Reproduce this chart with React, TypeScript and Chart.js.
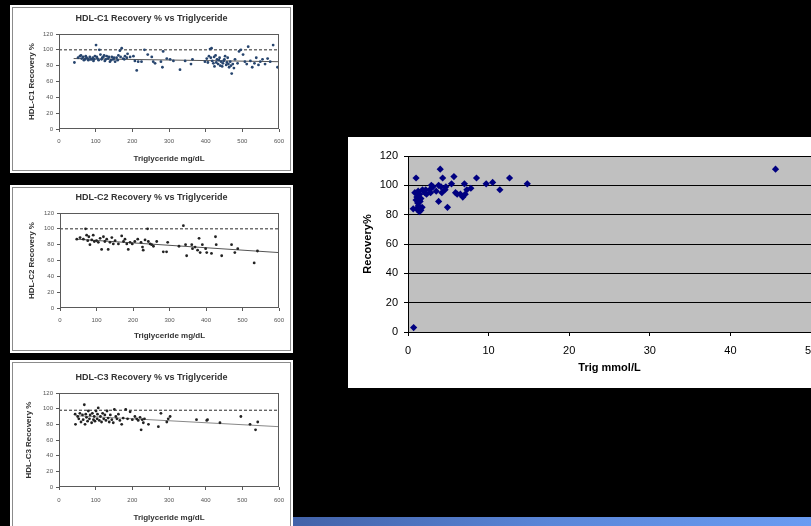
import React, { useEffect, useRef } from 'react';
import { Chart, registerables } from 'chart.js';
Chart.register(...registerables);

const FONT = "'Liberation Sans', Arial, Helvetica, sans-serif";

// ---------- tick labels ----------
const leftXTicks = [0, 100, 200, 300, 400, 500, 600];
const leftYTicks = [0, 20, 40, 60, 80, 100, 120];
const bigXTicks = [0, 10, 20, 30, 40, 50];
const bigYTicks = [0, 20, 40, 60, 80, 100, 120];

// ---------- HDL-C1 ----------
const c1Title = 'HDL-C1 Recovery % vs Triglyceride';
const c1YTitle = 'HDL-C1 Recovery %';
const c1Trig = [42, 57, 62, 66, 71, 75, 80, 84, 89, 94, 98, 101, 105, 110, 113, 116, 121, 125, 130, 134, 139, 144, 148, 153, 157, 162, 166, 171, 175, 180, 187, 194, 203, 207, 212, 216, 225, 233, 242, 253, 257, 262, 278, 282, 284, 294, 303, 312, 330, 344, 360, 364, 398, 403, 409, 412, 416, 421, 424, 427, 431, 434, 438, 442, 445, 449, 453, 456, 460, 464, 467, 471, 474, 477, 480, 487, 491, 496, 502, 507, 512, 516, 522, 527, 533, 538, 544, 549, 555, 562, 569, 576, 584, 596,
  52, 60, 68, 73, 78, 86, 92, 96, 103, 108, 118, 123, 128, 136, 142, 150, 160, 168, 178, 185, 406, 414, 418, 423, 429, 436, 440, 447, 451, 458, 462, 469];
const c1Recovery = [84, 92, 89, 91, 88, 90, 87, 91, 88, 86, 92, 106, 89, 100, 94, 88, 91, 86, 92, 89, 85, 91, 88, 85, 90, 93, 99, 102, 89, 92, 95, 91, 92, 86, 74, 85, 85, 100, 94, 91, 85, 83, 85, 78, 98, 89, 88, 86, 75, 86, 82, 88, 85, 89, 92, 101, 102, 83, 79, 93, 88, 82, 90, 85, 79, 86, 92, 81, 90, 78, 85, 70, 82, 77, 88, 83, 98, 100, 94, 85, 82, 104, 86, 78, 83, 90, 81, 85, 88, 82, 89, 85, 106, 78,
  90, 93, 87, 92, 89, 88, 90, 88, 91, 87, 90, 93, 88, 91, 87, 90, 87, 91, 88, 90, 84, 90, 86, 91, 84, 87, 80, 83, 88, 84, 82, 80];
const c1RefY = 100;
const c1TrendX = [40, 600];
const c1TrendY = [89, 85];

// ---------- HDL-C2 ----------
const c2Title = 'HDL-C2 Recovery % vs Triglyceride';
const c2YTitle = 'HDL-C2 Recovery %';
const c2Trig = [46, 55, 64, 70, 73, 76, 79, 82, 87, 91, 94, 100, 105, 110, 114, 119, 123, 128, 132, 137, 142, 146, 151, 160, 169, 174, 178, 183, 187, 192, 198, 205, 213, 222, 226, 228, 233, 240, 242, 247, 251, 256, 265, 283, 292, 295, 326, 338, 344, 347, 361, 363, 370, 377, 381, 384, 390, 399, 402, 415, 426, 428, 443, 470, 479, 487, 532, 541];
const c2Recovery = [87, 89, 87, 100, 92, 85, 90, 80, 86, 92, 84, 85, 83, 88, 74, 90, 84, 87, 74, 83, 89, 81, 85, 81, 91, 84, 87, 81, 74, 83, 81, 84, 87, 83, 77, 73, 86, 100, 84, 81, 80, 78, 84, 71, 71, 83, 78, 104, 80, 66, 80, 75, 77, 73, 88, 70, 80, 75, 70, 69, 90, 80, 66, 80, 70, 75, 57, 72];
const c2RefY = 100;
const c2TrendX = [45, 600];
const c2TrendY = [87, 70];

// ---------- HDL-C3 ----------
const c3Title = 'HDL-C3 Recovery % vs Triglyceride';
const c3YTitle = 'HDL-C3 Recovery %';
const c3Trig = [44, 45, 51, 54, 57, 60, 64, 66, 69, 71, 73, 75, 78, 80, 83, 85, 89, 91, 94, 96, 98, 101, 104, 105, 107, 110, 113, 116, 119, 122, 125, 128, 131, 134, 137, 140, 144, 148, 151, 155, 158, 162, 166, 171, 175, 182, 187, 194, 200, 207, 212, 216, 221, 224, 227, 230, 233, 244, 271, 278, 294, 298, 303, 375, 403, 405, 439, 496, 521, 536, 542];
const c3Recovery = [93, 80, 90, 87, 94, 83, 92, 86, 105, 80, 93, 89, 84, 97, 87, 92, 82, 94, 86, 90, 84, 97, 87, 93, 101, 85, 90, 83, 94, 87, 92, 85, 97, 88, 83, 92, 86, 82, 99, 90, 87, 93, 85, 80, 88, 99, 87, 96, 86, 90, 87, 85, 89, 73, 86, 82, 87, 80, 77, 94, 83, 87, 90, 86, 85, 86, 82, 90, 80, 73, 83];
const c3RefY = 98;
const c3TrendX = [45, 600];
const c3TrendY = [91, 77];

const leftXTitle = 'Triglyceride mg/dL';

// ---------- Big chart ----------
const bigTrig = [1.0, 4.0, 4.3, 5.7, 8.5, 12.6, 14.8, 9.7, 10.5, 11.4, 7.0, 5.4, 7.3, 7.8, 6.8, 7.1, 4.9, 3.8, 5.9, 6.1, 4.2, 4.6, 3.5, 3.8, 2.9, 2.7, 3.1, 2.2, 1.8, 2.1, 0.85, 1.26, 1.46, 1.1, 1.4, 1.5, 1.2, 0.65, 1.06, 1.6, 1.4, 1.75, 4.1, 4.7, 6.5, 1.3, 1.0, 1.6, 2.3, 2.8, 0.7, 45.6];
const bigRecovery = [105, 111, 105, 106, 105, 105, 101, 101, 102, 97, 101, 101, 97, 98, 92, 94, 85, 89, 95, 94, 95, 97, 96, 100, 100, 97, 99, 97, 97, 95, 95, 96, 94, 92, 90, 89, 88, 84, 84, 83, 82, 85, 99, 99, 94, 86, 90, 91, 94, 95, 3, 111];
const bigXTitle = 'Trig mmol/L';
const bigYTitle = 'Recovery%';

// ---------- helpers ----------
const pts = (xs: number[], ys: number[]) => xs.map((x, i) => ({ x, y: ys[i] }));

const deco = {
  id: 'deco',
  beforeDraw(chart: any, _a: any, opts: any) {
    const { ctx, chartArea: a } = chart;
    if (opts.bg) {
      ctx.save();
      ctx.fillStyle = opts.bg;
      ctx.fillRect(a.left, a.top, a.right - a.left, a.bottom - a.top);
      ctx.restore();
    }
  },
  afterDraw(chart: any, _a: any, opts: any) {
    const { ctx, chartArea: a } = chart;
    if (opts.frame) {
      ctx.save();
      ctx.strokeStyle = opts.frame;
      ctx.lineWidth = 1;
      const l = Math.round(a.left) + 0.5, t = Math.round(a.top) + 0.5;
      const r = Math.round(a.right) - 0.5, b = Math.round(a.bottom) - 0.5;
      ctx.strokeRect(l, t, r - l, b - t);
      ctx.restore();
    }
    if (opts.title) {
      ctx.save();
      ctx.fillStyle = opts.titleColor || '#333';
      ctx.font = `bold ${opts.titleSize}px ${FONT}`;
      ctx.textAlign = 'center';
      ctx.textBaseline = 'middle';
      ctx.fillText(opts.title, chart.width / 2, opts.titleY);
      ctx.restore();
    }
  },
};

type Spec = {
  W: number; H: number;
  plot: { l: number; t: number; r: number; b: number };
  title: string; titleY: number; yTitle: string;
  xs: number[]; ys: number[]; refY: number; trendX: number[]; trendY: number[];
  pointColor: string; trendColor: string;
  xTickPad: number; xTitlePad: number; yTitlePad: number;
};

function smallConfig(s: Spec): any {
  return {
    type: 'scatter',
    data: {
      datasets: [
        { data: pts(s.xs, s.ys), pointRadius: 1.4, pointBackgroundColor: s.pointColor, pointBorderWidth: 0, showLine: false },
        { data: pts([leftXTicks[0], leftXTicks[leftXTicks.length - 1]], [s.refY, s.refY]), showLine: true, borderColor: '#2a2a2a', borderWidth: 1, borderDash: [3, 2], pointRadius: 0 },
        { data: pts(s.trendX, s.trendY), showLine: true, borderColor: s.trendColor, borderWidth: 1, pointRadius: 0 },
      ],
    },
    options: {
      animation: false, responsive: false, devicePixelRatio: 1, events: [],
      layout: { padding: { left: 0, top: s.plot.t, right: s.W - s.plot.r, bottom: 0 } },
      plugins: {
        legend: { display: false }, tooltip: { enabled: false },
        deco: { frame: '#5a5a5a', title: s.title, titleY: s.titleY, titleSize: 9, titleColor: '#333' },
      },
      scales: {
        x: {
          type: 'linear', min: leftXTicks[0], max: leftXTicks[leftXTicks.length - 1],
          ticks: { stepSize: leftXTicks[1] - leftXTicks[0], font: { size: 6, family: FONT }, color: '#555', padding: s.xTickPad, maxRotation: 0, autoSkip: false },
          grid: { drawOnChartArea: false, drawTicks: true, tickLength: 3, color: '#5a5a5a' },
          border: { display: false },
          title: { display: true, text: leftXTitle, font: { size: 8, weight: 'bold', family: FONT }, color: '#333', padding: { top: 0, bottom: s.xTitlePad } },
          afterFit: (sc: any) => { sc.height = s.H - s.plot.b; },
        },
        y: {
          type: 'linear', min: leftYTicks[0], max: leftYTicks[leftYTicks.length - 1],
          ticks: { stepSize: leftYTicks[1] - leftYTicks[0], font: { size: 6, family: FONT }, color: '#555', padding: 3 },
          grid: { drawOnChartArea: false, drawTicks: true, tickLength: 3, color: '#5a5a5a' },
          border: { display: false },
          title: { display: true, text: s.yTitle, font: { size: 8, weight: 'bold', family: FONT }, color: '#333', padding: { top: s.yTitlePad, bottom: 0 } },
          afterFit: (sc: any) => { sc.width = s.plot.l; },
        },
      },
    },
    plugins: [deco],
  };
}

function bigConfig(): any {
  const W = 480, H = 251;
  const plot = { l: 60, t: 19, r: 463, b: 195 };
  return {
    type: 'scatter',
    data: {
      datasets: [
        { data: pts(bigTrig, bigRecovery), pointStyle: 'rectRot', pointRadius: 3.6, pointBackgroundColor: '#000080', pointBorderColor: '#000080', pointBorderWidth: 0, showLine: false },
      ],
    },
    options: {
      animation: false, responsive: false, devicePixelRatio: 1, events: [],
      layout: { padding: { left: 0, top: plot.t, right: W - plot.r, bottom: 0 } },
      plugins: {
        legend: { display: false }, tooltip: { enabled: false },
        deco: { bg: '#c0c0c0' },
      },
      scales: {
        x: {
          type: 'linear', min: bigXTicks[0], max: bigXTicks[bigXTicks.length - 1],
          ticks: { stepSize: bigXTicks[1] - bigXTicks[0], font: { size: 11, family: FONT }, color: '#000', padding: 8, maxRotation: 0, autoSkip: false },
          grid: { drawOnChartArea: false, drawTicks: true, tickLength: 4, color: '#000' },
          border: { display: true, color: '#000', width: 1 },
          title: { display: true, text: bigXTitle, font: { size: 11, weight: 'bold', family: FONT }, color: '#000', padding: { top: 0, bottom: 13 } },
          afterFit: (sc: any) => { sc.height = H - plot.b; },
        },
        y: {
          type: 'linear', min: bigYTicks[0], max: bigYTicks[bigYTicks.length - 1],
          ticks: { stepSize: bigYTicks[1] - bigYTicks[0], font: { size: 11, family: FONT }, color: '#000', padding: 6 },
          grid: { drawOnChartArea: true, drawTicks: true, tickLength: 4, color: '#000', lineWidth: 1 },
          border: { display: true, color: '#000', width: 1 },
          title: { display: true, text: bigYTitle, font: { size: 11, weight: 'bold', family: FONT }, color: '#000', padding: { top: 13, bottom: 0 } },
          afterFit: (sc: any) => { sc.width = plot.l; },
        },
      },
    },
    plugins: [deco],
  };
}

function ChartBox(props: { left: number; top: number; W: number; H: number; make: () => any; frame?: 'closed' | 'open' }) {
  const ref = useRef<HTMLCanvasElement>(null);
  useEffect(() => {
    const chart = new Chart(ref.current as HTMLCanvasElement, props.make());
    return () => chart.destroy();
  }, []);
  const { left, top, W, H, frame } = props;
  return (
    <div style={{ position: 'absolute', left, top, width: W, height: H, background: '#fff' }}>
      {frame && (
        <div style={{ position: 'absolute', left: 2, top: 2, width: W - 4, height: frame === 'open' ? H + 10 : H - 4, border: '1px solid #8c8c8c', boxSizing: 'border-box' }} />
      )}
      <canvas ref={ref} width={W} height={H} style={{ position: 'absolute', left: 0, top: 0, width: W, height: H }} />
    </div>
  );
}

export default function App() {
  return (
    <div style={{ position: 'fixed', left: 0, top: 0, width: 811, height: 526, background: '#000', overflow: 'hidden' }}>
      <div style={{ position: 'absolute', left: 290, top: 517, width: 521, height: 9, background: 'linear-gradient(90deg, #4262a8, #5a86d8 50%, #6a9cf2)' }} />
      <ChartBox left={10} top={5} W={283} H={168} frame="closed"
        make={() => smallConfig({ W: 283, H: 168, plot: { l: 49, t: 29, r: 269, b: 124 }, title: c1Title, titleY: 14, yTitle: c1YTitle,
          xs: c1Trig, ys: c1Recovery, refY: c1RefY, trendX: c1TrendX, trendY: c1TrendY, pointColor: '#27456e', trendColor: '#555',
          xTickPad: 6, xTitlePad: 9, yTitlePad: 17 })} />
      <ChartBox left={10} top={185} W={283} H={168} frame="closed"
        make={() => smallConfig({ W: 283, H: 168, plot: { l: 50, t: 28, r: 269, b: 123 }, title: c2Title, titleY: 13, yTitle: c2YTitle,
          xs: c2Trig, ys: c2Recovery, refY: c2RefY, trendX: c2TrendX, trendY: c2TrendY, pointColor: '#222', trendColor: '#555',
          xTickPad: 5.5, xTitlePad: 12, yTitlePad: 17 })} />
      <ChartBox left={10} top={360} W={283} H={166} frame="open"
        make={() => smallConfig({ W: 283, H: 166, plot: { l: 49, t: 33, r: 269, b: 127 }, title: c3Title, titleY: 18, yTitle: c3YTitle,
          xs: c3Trig, ys: c3Recovery, refY: c3RefY, trendX: c3TrendX, trendY: c3TrendY, pointColor: '#222', trendColor: '#888',
          xTickPad: 7, xTitlePad: 3, yTitlePad: 14 })} />
      <ChartBox left={348} top={137} W={480} H={251} make={bigConfig} />
    </div>
  );
}
